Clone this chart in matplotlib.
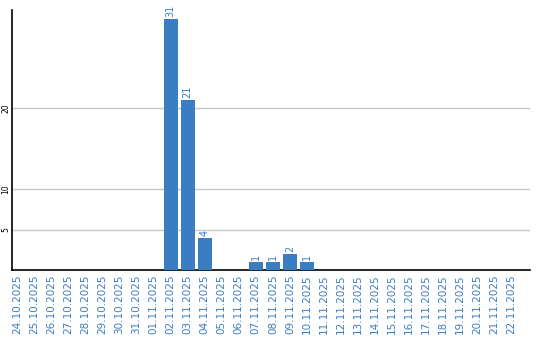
import numpy as np
import matplotlib.pyplot as plt

dates = ['24.10.2025', '25.10.2025', '26.10.2025', '27.10.2025', '28.10.2025',
         '29.10.2025', '30.10.2025', '31.10.2025', '01.11.2025', '02.11.2025',
         '03.11.2025', '04.11.2025', '05.11.2025', '06.11.2025', '07.11.2025',
         '08.11.2025', '09.11.2025', '10.11.2025', '11.11.2025', '12.11.2025',
         '13.11.2025', '14.11.2025', '15.11.2025', '16.11.2025', '17.11.2025',
         '18.11.2025', '19.11.2025', '20.11.2025', '21.11.2025', '22.11.2025']
counts = [0, 0, 0, 0, 0, 0, 0, 0, 0, 31, 21, 4, 0, 0, 1, 1, 2, 1,
          0, 0, 0, 0, 0, 0, 0, 0, 0, 0, 0, 0]
yticks = [5, 10, 20]

blue = '#3b7dc2'

fig = plt.figure(figsize=(5.4, 3.4), dpi=100)
ax = fig.add_axes([11.5 / 540, 70 / 340, 518.5 / 540, 260 / 340])

x = np.arange(len(dates))
bars = ax.bar(x, counts, width=0.82, color=blue, zorder=3)

# value labels above non-empty bars
for xi, c in zip(x, counts):
    if c > 0:
        ax.text(xi, c + 0.2, str(c), rotation=90, ha='center', va='bottom',
                color=blue, fontsize=7)

ax.set_xlim(-0.35, 30.1)
ax.set_ylim(0, 32.1)
ax.set_xticks(x)
ax.set_xticklabels(dates, rotation=90, color=blue, fontsize=7.5)
ax.set_yticks(yticks)
ax.set_yticklabels([str(t) for t in yticks], rotation=90, fontsize=5.5,
                   va='center')
ax.tick_params(axis='x', length=0, pad=3)
ax.tick_params(axis='y', length=0, pad=1)
ax.grid(axis='y', color='#c8c8c8', linewidth=1, zorder=0)

for side in ['top', 'right']:
    ax.spines[side].set_visible(False)
ax.spines['left'].set_linewidth(1.2)
ax.spines['bottom'].set_linewidth(1.2)

plt.savefig('out.png', dpi=100)
plt.close()
